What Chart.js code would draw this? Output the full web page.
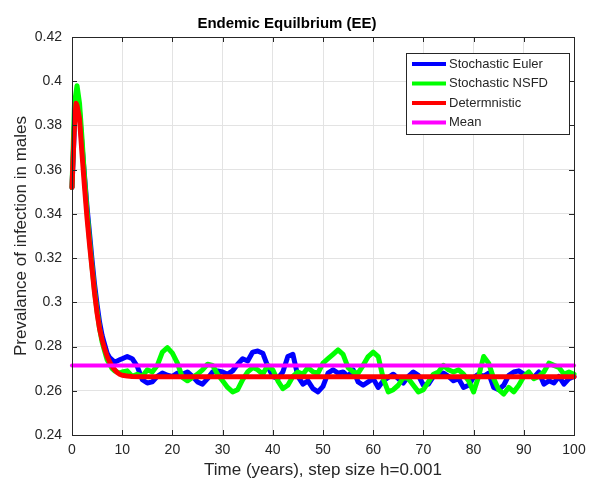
<!DOCTYPE html>
<html>
<head>
<meta charset="utf-8">
<script src="https://cdn.jsdelivr.net/npm/chart.js@4/dist/chart.umd.min.js"></script>
<style>
  html, body { margin: 0; padding: 0; background: #fff; }
  #wrap { width: 602px; height: 486px; }
</style>
</head>
<body>
<div id="wrap"><canvas id="eeChart" width="602" height="486"></canvas></div>
<script>
const FONT = "'Liberation Sans', Arial, Helvetica, sans-serif";

/* ---------- Data ---------- */
const seriesNames = ["Stochastic Euler", "Stochastic NSFD", "Determnistic", "Mean"];
const seriesColors = ["#0000ff", "#00ff00", "#ff0000", "#ff00ff"];

// sampling grid of the stochastic runs: half-year steps to t=10, yearly after
const stochTimes = [];
for (let t = 0; t <= 10; t += 0.5) stochTimes.push(t);
for (let t = 11; t <= 100; t++) stochTimes.push(t);

const eulerValues = [
  0.352, 0.381, 0.391, 0.386, 0.371, 0.357, 0.343, 0.331, 0.319, 0.308,
  0.299, 0.291, 0.285, 0.281, 0.277, 0.275, 0.274, 0.273, 0.2735, 0.274,
  0.2745,
  0.2755, 0.2745, 0.271, 0.265, 0.2635, 0.264, 0.2665, 0.268, 0.267, 0.2665,
  0.268, 0.2675, 0.2685, 0.2665, 0.264, 0.263, 0.2655, 0.2685, 0.269, 0.2685,
  0.2675, 0.269, 0.272, 0.2745, 0.2735, 0.2775, 0.278, 0.277, 0.271, 0.2665,
  0.2655, 0.2685, 0.2755, 0.2765, 0.2665, 0.263, 0.2645, 0.261, 0.2595, 0.262,
  0.268, 0.2695, 0.268, 0.2685, 0.2665, 0.2695, 0.264, 0.2625, 0.264, 0.2655,
  0.2615, 0.2645, 0.266, 0.2675, 0.2655, 0.2635, 0.2665, 0.2685, 0.267, 0.2625,
  0.263, 0.2665, 0.2665, 0.268, 0.2665, 0.2645, 0.2655, 0.2615, 0.2625, 0.266,
  0.2675, 0.2665, 0.268, 0.2615, 0.2605, 0.2625, 0.267, 0.2685, 0.269, 0.2675,
  0.267, 0.266, 0.2685, 0.263, 0.2645, 0.2635, 0.2665, 0.263, 0.2655, 0.2665
];

const nsfdValues = [
  0.352, 0.390, 0.398, 0.390, 0.374, 0.356, 0.341, 0.328, 0.316, 0.305,
  0.296, 0.288, 0.282, 0.278, 0.274, 0.272, 0.270, 0.269, 0.2685, 0.268,
  0.2685,
  0.269, 0.2665, 0.2675, 0.2665, 0.2695, 0.2685, 0.2715, 0.2775, 0.2795, 0.277,
  0.2725, 0.266, 0.2645, 0.266, 0.2675, 0.2695, 0.272, 0.2715, 0.2675, 0.2645,
  0.2615, 0.2595, 0.2605, 0.265, 0.2685, 0.2705, 0.2695, 0.2675, 0.2715, 0.2695,
  0.2645, 0.261, 0.2625, 0.2665, 0.2685, 0.2675, 0.2705, 0.2685, 0.268, 0.2725,
  0.2745, 0.2765, 0.2785, 0.2765, 0.2705, 0.2685, 0.268, 0.2715, 0.2755, 0.2775,
  0.2755, 0.2655, 0.2595, 0.2605, 0.2625, 0.266, 0.2655, 0.2625, 0.2595, 0.2605,
  0.264, 0.2675, 0.2685, 0.2715, 0.2695, 0.2685, 0.2695, 0.2675, 0.2645, 0.2595,
  0.2665, 0.2755, 0.2725, 0.2655, 0.2605, 0.2585, 0.2615, 0.2595, 0.2625, 0.2665,
  0.2685, 0.2655, 0.2665, 0.2685, 0.2725, 0.2715, 0.2705, 0.2675, 0.2685, 0.2675
];

const detTimes = [0, 0.5, 0.8, 1, 1.5, 2, 2.5, 3, 3.5, 4, 4.5, 5, 5.5, 6, 6.5, 7, 7.5, 8, 8.5, 9, 9.5, 10, 11, 12, 14, 100];
const detValues = [0.352, 0.381, 0.390, 0.389, 0.383, 0.367, 0.352, 0.338, 0.326, 0.315, 0.304, 0.295, 0.288, 0.283, 0.279, 0.2755, 0.273, 0.271, 0.2695, 0.2683, 0.2675, 0.267, 0.2667, 0.2665, 0.2664, 0.2664];

const meanTimes = [0, 100];
const meanValues = [0.2714, 0.2714];

const xTicks = [0, 10, 20, 30, 40, 50, 60, 70, 80, 90, 100];
const yTicks = [0.24, 0.26, 0.28, 0.30, 0.32, 0.34, 0.36, 0.38, 0.40, 0.42];

const toPoints = (xs, ys) => xs.map((x, i) => ({ x, y: ys[i] }));

/* ---------- Box, inward ticks and legend (MATLAB look) ---------- */
const matlabAxes = {
  id: "matlabAxes",
  afterDraw(chart) {
    const { ctx, chartArea: a, scales } = chart;
    const tick = 5;
    ctx.save();
    ctx.strokeStyle = "#262626";
    ctx.lineWidth = 1;
    ctx.beginPath();
    xTicks.forEach(v => {
      const px = Math.round(scales.x.getPixelForValue(v)) + 0.5;
      ctx.moveTo(px, a.bottom); ctx.lineTo(px, a.bottom - tick);
      ctx.moveTo(px, a.top); ctx.lineTo(px, a.top + tick);
    });
    yTicks.forEach(v => {
      const py = Math.round(scales.y.getPixelForValue(v)) + 0.5;
      ctx.moveTo(a.left, py); ctx.lineTo(a.left + tick, py);
      ctx.moveTo(a.right, py); ctx.lineTo(a.right - tick, py);
    });
    ctx.stroke();
    ctx.strokeRect(Math.round(a.left) + 0.5, Math.round(a.top) + 0.5,
      Math.round(a.right - a.left), Math.round(a.bottom - a.top));

    // legend box in the upper right corner
    const lx = 406, ly = 53, lw = 163, lh = 81, rowH = 19.5;
    ctx.fillStyle = "#fff";
    ctx.fillRect(lx, ly, lw, lh);
    ctx.strokeRect(lx + 0.5, ly + 0.5, lw, lh);
    ctx.font = "13px " + FONT;
    ctx.textBaseline = "middle";
    seriesNames.forEach((name, i) => {
      const y = ly + 11 + i * rowH;
      ctx.strokeStyle = seriesColors[i];
      ctx.lineWidth = 4;
      ctx.beginPath();
      ctx.moveTo(lx + 6, y); ctx.lineTo(lx + 40, y);
      ctx.stroke();
      ctx.fillStyle = "#262626";
      ctx.fillText(name, lx + 43, y);
    });
    ctx.restore();
  }
};

/* ---------- Chart ---------- */
const lineSet = (i, points, width, order) => ({
  label: seriesNames[i],
  data: points,
  borderColor: seriesColors[i],
  backgroundColor: seriesColors[i],
  borderWidth: width,
  borderJoinStyle: "round",
  borderCapStyle: "round",
  pointRadius: 0,
  tension: 0,
  clip: false,
  order
});

const chart = new Chart(document.getElementById("eeChart").getContext("2d"), {
  type: "line",
  data: {
    datasets: [
      lineSet(0, toPoints(stochTimes, eulerValues), 5, 4),
      lineSet(1, toPoints(stochTimes, nsfdValues), 5, 3),
      lineSet(2, toPoints(detTimes, detValues), 5, 2),
      lineSet(3, toPoints(meanTimes, meanValues), 4, 1)
    ]
  },
  options: {
    responsive: false,
    animation: false,
    layout: { padding: { left: 0, right: 28, top: 0, bottom: 0 } },
    plugins: {
      legend: { display: false },
      tooltip: { enabled: false },
      title: {
        display: true,
        text: "Endemic Equilbrium (EE)",
        color: "#000",
        font: { family: FONT, size: 15, weight: "bold" },
        padding: { top: 15, bottom: 4 }
      }
    },
    scales: {
      x: {
        type: "linear",
        min: 0, max: 100,
        afterBuildTicks: s => { s.ticks = xTicks.map(v => ({ value: v })); },
        afterFit: s => { s.height = 51; },
        grid: { color: "#e3e3e3", drawTicks: false },
        border: { display: false },
        ticks: { color: "#262626", padding: 7, maxRotation: 0, font: { family: FONT, size: 14 } },
        title: {
          display: true,
          text: "Time (years), step size h=0.001",
          color: "#262626",
          font: { family: FONT, size: 17 },
          padding: { top: 0, bottom: 5 }
        }
      },
      y: {
        type: "linear",
        min: 0.24, max: 0.42,
        afterBuildTicks: s => { s.ticks = yTicks.map(v => ({ value: v })); },
        afterFit: s => { s.width = 72; },
        grid: { color: "#e3e3e3", drawTicks: false },
        border: { display: false },
        ticks: {
          color: "#262626", padding: 10,
          font: { family: FONT, size: 14 },
          callback: v => String(Number(v.toFixed(2)))
        },
        title: {
          display: true,
          text: "Prevalance of infection in males",
          color: "#262626",
          font: { family: FONT, size: 17 },
          padding: { top: 11, bottom: 0 }
        }
      }
    }
  },
  plugins: [matlabAxes]
});
</script>
</body>
</html>
